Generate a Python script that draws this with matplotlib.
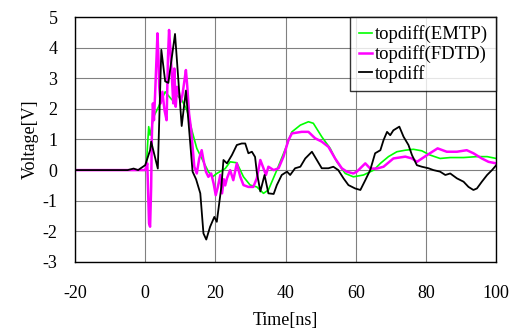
import matplotlib.pyplot as plt
import numpy as np

plt.rcParams['font.family'] = ['Liberation Serif', 'DejaVu Serif']
plt.rcParams['axes.unicode_minus'] = False

# topdiff (black, measured)
t_meas = [-20, -10, -5, -3.3, -2, -1.4, 0, 1.4, 1.7, 3.6, 4.6, 5.7, 6.6, 8.5, 10.4, 11.6,
          13.5, 14.5, 15.7, 16.6, 17.4, 18.5, 19.7, 20.4, 21.7, 22.3, 23.3, 24.7, 26.1,
          27.5, 28.5, 29.4, 30.4, 31.3, 31.8, 32.3, 32.8, 34.0, 35.1, 36.6, 37.5, 38.9,
          40.4, 41.3, 42.7, 44.2, 45.6, 47.5, 48.9, 50.3, 52.2, 53.6, 55.0, 56.5, 57.9,
          59.8, 61.3, 62.7, 64.1, 65.5, 67.0, 67.9, 68.9, 69.8, 70.7, 72.4, 73.6, 75.0,
          76.0, 77.4, 78.8, 80.7, 82.1, 84.0, 85.5, 86.9, 88.8, 90.7, 92.1, 93.5, 94.5,
          95.9, 97.4, 98.8, 100]
v_meas = [0, 0, 0, 0.05, 0, 0.05, 0.16, 0.65, 0.93, 0.05, 3.93, 2.9, 2.85, 4.45, 1.44, 2.6,
          -0.05, -0.3, -0.76, -2.07, -2.27, -1.85, -1.53, -1.69, -0.55, 0.33, 0.22, 0.49,
          0.82, 0.87, 0.87, 0.55, 0.6, 0.43, -0.07, -0.38, -0.7, -0.16, -0.76, -0.78,
          -0.49, -0.16, -0.05, -0.16, 0.06, 0.11, 0.38, 0.6, 0.33, 0.06, 0.06, 0.11, 0,
          -0.27, -0.49, -0.6, -0.65, -0.33, 0, 0.55, 0.65, 0.98, 1.25, 1.14, 1.3, 1.42,
          1.09, 0.82, 0.49, 0.16, 0.11, 0.06, 0, -0.05, -0.16, -0.11, -0.27, -0.38, -0.55,
          -0.65, -0.6, -0.38, -0.16, 0, 0.16]

# topdiff(EMTP) (green)
t_emtp = [-20, 0, 0.3, 1.0, 1.4, 2.4, 3.8, 5.7, 7.6, 9.0, 10.4, 11.9, 13.3, 14.7, 16.6,
          18.0, 19.2, 20.4, 22.8, 24.2, 26.1, 28.0, 29.9, 31.8, 33.7, 35.1, 37.5, 40.0,
          41.8, 44.2, 46.5, 47.9, 50.3, 52.7, 54.6, 57.0, 59.3, 62.2, 65.1, 67.0, 69.3,
          71.7, 74.1, 76.4, 78.8, 81.2, 84.0, 86.9, 90.7, 94.5, 97.4, 100]
v_emtp = [0, 0, 0.1, 1.42, 1.14, 1.74, 2.07, 2.56, 2.3, 2.45, 2.3, 1.96, 1.3, 0.71, 0.27,
          -0.05, -0.22, -0.11, 0.05, 0.27, 0.24, -0.22, -0.49, -0.55, -0.76, -0.65, 0,
          0.71, 1.25, 1.47, 1.58, 1.53, 1.09, 0.71, 0.27, -0.11, -0.22, -0.16, 0, 0.22,
          0.44, 0.6, 0.65, 0.68, 0.63, 0.49, 0.38, 0.41, 0.41, 0.44, 0.44, 0.38]

# topdiff(FDTD) (magenta)
t_fdtd = [-20, 0, 0.6, 1.1, 1.4, 1.7, 1.9, 2.2, 2.5, 2.8, 3.5, 3.8, 4.0, 4.4, 4.9, 5.5,
          6.1, 6.5, 6.8, 7.2, 7.6, 8.0, 8.3, 8.7, 9.1, 9.5, 10.1, 10.6, 11.2, 11.6, 12.0,
          12.5, 13.1, 13.5, 14.0, 14.7, 15.4, 16.1, 16.6, 17.3, 18.0, 18.8, 19.5, 20.1,
          20.7, 21.4, 21.9, 22.4, 22.8, 23.3, 24.2, 25.1, 26.1, 27.1, 28.0, 29.4, 30.8,
          31.8, 32.8, 33.7, 34.4, 35.1, 36.6, 38.0, 39.4, 40.8, 41.8, 44.6, 46.5, 47.5,
          48.4, 50.3, 52.2, 54.1, 56.0, 57.4, 59.3, 60.3, 62.7, 64.1, 66.0, 67.9, 70.7,
          74.1, 76.0, 77.4, 80.3, 83.3, 85.9, 88.8, 91.6, 93.5, 95.9, 97.8, 100]
v_fdtd = [0, 0, 0.22, -1.74, -1.85, -0.55, 1.09, 2.18, 1.63, 2.4, 4.47, 3.6, 2.73, 2.18,
          2.56, 1.96, 1.63, 3.7, 4.58, 3.92, 3.05, 2.18, 3.32, 2.07, 2.72, 2.6, 2.23, 2.45,
          2.94, 3.27, 2.72, 1.85, 1.31, 0.76, 0.11, -0.11, 0.38, 0.65, 0.33, -0.05, -0.22,
          -0.11, -0.44, -0.82, -0.55, -0.16, -0.76, -0.3, -0.5, -0.27, 0, -0.33, 0.22,
          -0.22, -0.49, -0.55, -0.55, -0.27, 0.33, 0.06, -0.16, 0.11, 0, 0.06, 0.44, 0.98,
          1.2, 1.25, 1.25, 1.14, 1.04, 0.93, 0.76, 0.38, 0.06, -0.05, -0.11, -0.05, 0.22,
          0.05, 0.05, 0.11, 0.38, 0.44, 0.38, 0.27, 0.49, 0.71, 0.6, 0.6, 0.65, 0.55, 0.38,
          0.27, 0.22]

fig = plt.figure(figsize=(5.1, 3.29), dpi=100)
ax = fig.add_axes([0.147, 0.204, 0.826, 0.744])

ax.plot(t_emtp, v_emtp, color='#00ff00', lw=1.2, label='topdiff(EMTP)')
ax.plot(t_fdtd, v_fdtd, color='#ff00ff', lw=1.8, label='topdiff(FDTD)')
ax.plot(t_meas, v_meas, color='black', lw=1.3, label='topdiff')

ax.set_xlim(-20, 100)
ax.set_ylim(-3, 5)
ax.set_xticks(np.arange(-20, 101, 20))
ax.set_yticks(np.arange(-3, 6, 1))
ax.grid(True, color='#808080', lw=0.8)
ax.tick_params(axis='both', labelsize=13, length=0)
ax.tick_params(axis='x', pad=16.5)
ax.tick_params(axis='y', pad=12.5)
for s in ax.spines.values():
    s.set_linewidth(1.0)
    s.set_color('black')

ax.set_xlabel('Time[ns]', fontsize=13, labelpad=7)
ax.set_ylabel('Voltage[V]', fontsize=13, labelpad=3)

leg = ax.legend(loc='upper right', fontsize=13.5, frameon=True, fancybox=False,
                borderaxespad=0, handlelength=0.7, handletextpad=0.15,
                labelspacing=0.1, borderpad=0.45)
leg.get_frame().set_edgecolor('black')
leg.get_frame().set_linewidth(1.0)

plt.savefig('out.png', dpi=100)
